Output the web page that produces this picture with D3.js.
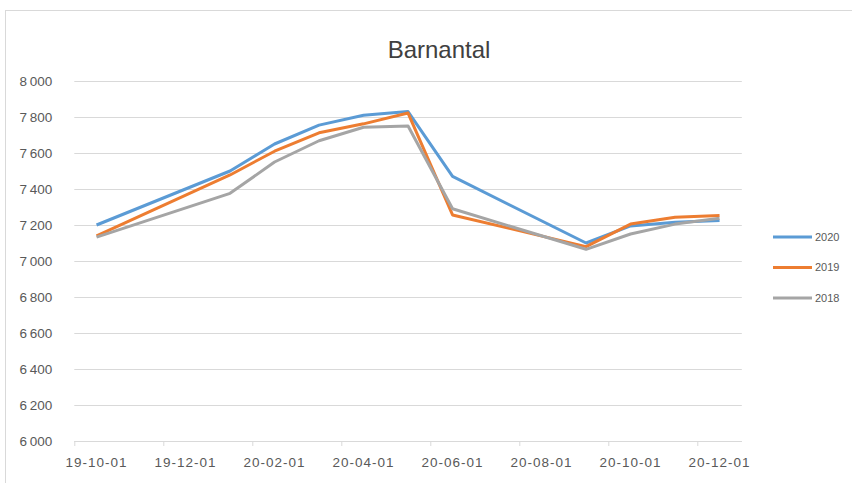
<!DOCTYPE html>
<html>
<head>
<meta charset="utf-8">
<script src="https://cdn.jsdelivr.net/npm/d3@7"></script>
<style>
  body { margin: 0; background: #fff; }
  svg { display: block; font-family: 'Liberation Sans', Arial, sans-serif; }
</style>
</head>
<body>
<svg id="chart" width="852" height="483"></svg>
<script>
// months shown on the axis (Excel date axis, base unit = month)
const axisMonths = ['2019-10', '2019-11', '2019-12', '2020-01', '2020-02', '2020-03', '2020-04',
    '2020-05', '2020-06', '2020-07', '2020-08', '2020-09', '2020-10', '2020-11', '2020-12']
const tickLabels = ['19-10-01', '19-12-01', '20-02-01', '20-04-01', '20-06-01', '20-08-01', '20-10-01', '20-12-01']

// data points
const dates = ['2019-10', '2020-01', '2020-02', '2020-03', '2020-04', '2020-05',
    '2020-06', '2020-09', '2020-10', '2020-11', '2020-12']
const years = ['2020', '2019', '2018']
const values2020 = [7200, 7500, 7650, 7755, 7810, 7830, 7470, 7100, 7195, 7215, 7225]
const values2019 = [7140, 7478, 7610, 7712, 7762, 7822, 7256, 7080, 7205, 7243, 7253]
const values2018 = [7133, 7376, 7550, 7668, 7743, 7750, 7290, 7065, 7150, 7205, 7237]
const yTicks = [6000, 6200, 6400, 6600, 6800, 7000, 7200, 7400, 7600, 7800, 8000]

const colors = { '2020': '#5b9bd5', '2019': '#ed7d31', '2018': '#a5a5a5' }
const series = [
    { name: '2020', values: values2020 },
    { name: '2019', values: values2019 },
    { name: '2018', values: values2018 }
]

const svg = d3.select('#chart')
const plotLeft = 74.3, plotRight = 741.8, plotTop = 81, plotBottom = 441

// chart frame
svg.append('rect')
    .attr('x', 5.5).attr('y', 10.5)
    .attr('width', 900).attr('height', 500)
    .attr('fill', 'none')
    .attr('stroke', '#d9d9d9')

const x = d3.scaleBand()
    .domain(axisMonths)
    .range([plotLeft, plotRight])
    .padding(0)

const y = d3.scaleLinear()
    .domain([6000, 8000])
    .range([plotBottom, plotTop])

const fmt = d3.formatLocale({ thousands: '\u2009', grouping: [3], decimal: ',', currency: ['', ''] }).format(',d')

// gridlines + y labels
const yAxis = svg.append('g')
    .attr('transform', `translate(${plotLeft},0)`)
    .call(d3.axisLeft(y).tickValues(yTicks).tickSize(-(plotRight - plotLeft)).tickPadding(22).tickFormat(fmt))
yAxis.select('.domain').remove()
yAxis.selectAll('.tick line').attr('stroke', '#d9d9d9')
yAxis.selectAll('.tick text')
    .attr('fill', '#595959')
    .attr('font-size', '13.5px')

// x axis: ticks at every other month boundary, labels centered on months
const labelMonths = axisMonths.filter((d, i) => i % 2 === 0)
const xAxis = svg.append('g')
    .attr('transform', `translate(0,${plotBottom})`)
    .call(d3.axisBottom(x).tickValues(labelMonths).tickSize(0).tickPadding(16)
        .tickFormat((d, i) => tickLabels[i]))
xAxis.select('.domain').attr('stroke', '#d9d9d9').attr('d', `M${plotLeft},0.5H${plotRight}`)
xAxis.selectAll('.tick text')
    .attr('fill', '#595959')
    .attr('font-size', '13.5px')
    .attr('letter-spacing', '1px')

svg.append('g')
    .selectAll('line')
    .data(labelMonths)
    .join('line')
    .attr('x1', d => x(d) + 0.5)
    .attr('x2', d => x(d) + 0.5)
    .attr('y1', plotBottom)
    .attr('y2', plotBottom + 5)
    .attr('stroke', '#d9d9d9')

// lines
const line = d3.line()
    .x((d, i) => x(dates[i]) + x.bandwidth() / 2)
    .y(d => y(d))

svg.append('g')
    .selectAll('path')
    .data(series)
    .join('path')
    .attr('d', d => line(d.values))
    .attr('fill', 'none')
    .attr('stroke', d => colors[d.name])
    .attr('stroke-width', 3)
    .attr('stroke-linejoin', 'round')

// title
svg.append('text')
    .text('Barnantal')
    .attr('x', 439)
    .attr('y', 58)
    .attr('text-anchor', 'middle')
    .attr('font-size', '24px')
    .attr('fill', '#404040')

// legend
const legend = svg.append('g')
    .selectAll('g')
    .data(years)
    .join('g')
    .attr('transform', (d, i) => `translate(773,${237 + i * 30.5})`)

legend.append('line')
    .attr('x1', 0).attr('x2', 39)
    .attr('stroke', d => colors[d])
    .attr('stroke-width', 3)

legend.append('text')
    .text(d => d)
    .attr('x', 42)
    .attr('dy', '0.35em')
    .attr('font-size', '11px')
    .attr('fill', '#595959')
</script>
</body>
</html>
